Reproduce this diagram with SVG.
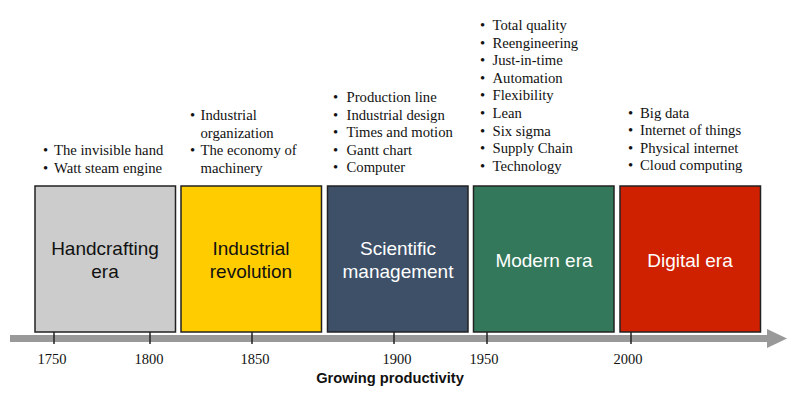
<svg xmlns="http://www.w3.org/2000/svg" width="799" height="397" viewBox="0 0 799 397">
<style>
.box{stroke:#222;stroke-width:1.5}
.lbl{font-family:"Liberation Sans",Arial,sans-serif;font-size:19px;text-anchor:middle}
.bl{font-family:"Liberation Serif","Times New Roman",serif;font-size:14.7px;fill:#111}
.yr{font-family:"Liberation Serif","Times New Roman",serif;font-size:14.5px;fill:#111;text-anchor:middle}
.tick{stroke:#222;stroke-width:1.5}
</style>
<rect width="799" height="397" fill="#fff"/>
<g id="connectors">
<rect x="10" y="335" width="760" height="7" fill="#999"/>
<polygon points="767,329 787,338.5 767,348" fill="#999"/>
<line class="tick" x1="54" y1="332" x2="54" y2="344"/>
<line class="tick" x1="150" y1="332" x2="150" y2="344"/>
<line class="tick" x1="252" y1="332" x2="252" y2="344"/>
<line class="tick" x1="394" y1="332" x2="394" y2="344"/>
<line class="tick" x1="487" y1="332" x2="487" y2="344"/>
<line class="tick" x1="631" y1="332" x2="631" y2="344"/>
</g>
<g id="axis-labels">
<text class="yr" x="52" y="364">1750</text>
<text class="yr" x="149" y="364">1800</text>
<text class="yr" x="255" y="364">1850</text>
<text class="yr" x="397" y="364">1900</text>
<text class="yr" x="484" y="364">1950</text>
<text class="yr" x="628" y="364">2000</text>
<text x="390" y="383" font-family="Liberation Sans,Arial,sans-serif" font-size="14.7" font-weight="bold" text-anchor="middle" fill="#111">Growing productivity</text>
</g>
<g id="handcrafting">
<rect class="box" x="35" y="186" width="140.5" height="146" fill="#cccccc"/>
<text class="lbl" fill="#111" x="105" y="255">Handcrafting</text>
<text class="lbl" fill="#111" x="105" y="278">era</text>
<text class="bl"><tspan x="43" y="155">•</tspan><tspan x="54" y="155">The invisible hand</tspan><tspan x="43" y="172.6">•</tspan><tspan x="54" y="172.6">Watt steam engine</tspan></text>
</g>
<g id="industrial">
<rect class="box" x="181" y="186" width="140.5" height="146" fill="#ffcc00"/>
<text class="lbl" fill="#111" x="251" y="255">Industrial</text>
<text class="lbl" fill="#111" x="251" y="278">revolution</text>
<text class="bl"><tspan x="190" y="120">•</tspan><tspan x="200.5" y="120">Industrial</tspan><tspan x="200.5" y="137.5">organization</tspan><tspan x="190" y="155">•</tspan><tspan x="200.5" y="155">The economy of</tspan><tspan x="200.5" y="172.6">machinery</tspan></text>
</g>
<g id="scientific">
<rect class="box" x="327.5" y="186" width="140.5" height="146" fill="#3d5068"/>
<text class="lbl" fill="#fff" x="398" y="255">Scientific</text>
<text class="lbl" fill="#fff" x="398" y="278">management</text>
<text class="bl"><tspan x="333" y="102">•</tspan><tspan x="346.5" y="102">Production line</tspan><tspan x="333" y="119.6">•</tspan><tspan x="346.5" y="119.6">Industrial design</tspan><tspan x="333" y="137.2">•</tspan><tspan x="346.5" y="137.2">Times and motion</tspan><tspan x="333" y="154.8">•</tspan><tspan x="346.5" y="154.8">Gantt chart</tspan><tspan x="333" y="172.4">•</tspan><tspan x="346.5" y="172.4">Computer</tspan></text>
</g>
<g id="modern">
<rect class="box" x="473.5" y="186" width="140.5" height="146" fill="#33785a"/>
<text class="lbl" fill="#fff" x="544" y="267">Modern era</text>
<text class="bl"><tspan x="480" y="30">•</tspan><tspan x="492.5" y="30">Total quality</tspan><tspan x="480" y="47.6">•</tspan><tspan x="492.5" y="47.6">Reengineering</tspan><tspan x="480" y="65.2">•</tspan><tspan x="492.5" y="65.2">Just-in-time</tspan><tspan x="480" y="82.8">•</tspan><tspan x="492.5" y="82.8">Automation</tspan><tspan x="480" y="100.4">•</tspan><tspan x="492.5" y="100.4">Flexibility</tspan><tspan x="480" y="118">•</tspan><tspan x="492.5" y="118">Lean</tspan><tspan x="480" y="135.6">•</tspan><tspan x="492.5" y="135.6">Six sigma</tspan><tspan x="480" y="153.2">•</tspan><tspan x="492.5" y="153.2">Supply Chain</tspan><tspan x="480" y="170.8">•</tspan><tspan x="492.5" y="170.8">Technology</tspan></text>
</g>
<g id="digital">
<rect class="box" x="620" y="186" width="140.5" height="146" fill="#cf2000"/>
<text class="lbl" fill="#fff" x="690" y="267">Digital era</text>
<text class="bl"><tspan x="628" y="118">•</tspan><tspan x="640" y="118">Big data</tspan><tspan x="628" y="135.4">•</tspan><tspan x="640" y="135.4">Internet of things</tspan><tspan x="628" y="152.8">•</tspan><tspan x="640" y="152.8">Physical internet</tspan><tspan x="628" y="170.2">•</tspan><tspan x="640" y="170.2">Cloud computing</tspan></text>
</g>
</svg>
